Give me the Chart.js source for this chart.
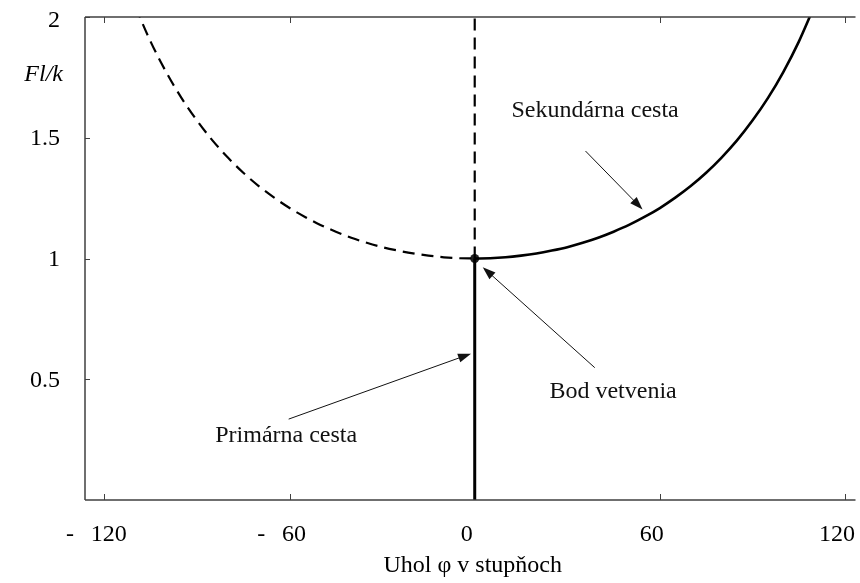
<!DOCTYPE html>
<html>
<head>
<meta charset="utf-8">
<script src="https://cdn.jsdelivr.net/npm/chart.js@4/dist/chart.umd.min.js"></script>
<style>
  html, body { margin: 0; padding: 0; background: #fff; }
  #c { display: block; }
</style>
</head>
<body>
<canvas id="c" width="860" height="583"></canvas>
<script>
// secondary path (solid), angle in degrees vs Fl/k
const angleRight = [0, 5, 10, 15, 20, 25, 30, 35, 40, 45, 50, 55, 60, 65, 70, 75, 80, 85, 90, 95, 100, 105, 110];
const flkRight = [1.0, 1.001, 1.005, 1.012, 1.021, 1.033, 1.047, 1.065, 1.086, 1.111, 1.139, 1.172, 1.209, 1.252, 1.300, 1.355, 1.418, 1.489, 1.571, 1.664, 1.772, 1.897, 2.043];
// unstable branch (dashed), negative angles
const angleLeft = [-110, -105, -100, -95, -90, -85, -80, -75, -70, -65, -60, -55, -50, -45, -40, -35, -30, -25, -20, -15, -10, -5, 0];
const flkLeft = [2.043, 1.897, 1.772, 1.664, 1.571, 1.489, 1.418, 1.355, 1.300, 1.252, 1.209, 1.172, 1.139, 1.111, 1.086, 1.065, 1.047, 1.033, 1.021, 1.012, 1.005, 1.001, 1.0];
// primary path (x = 0) and the branch point
const primaryY = [0, 1];
const dashedUpY = [1, 2];
const branchPoint = { x: 0, y: 1 };

const xTicks = [-120, -60, 0, 60, 120];
const xTickLabels = ['-\u2002\u2009120', '-\u2002\u200960', '0', '60', '120'];
const yTicks = [0.5, 1, 1.5, 2];
const yTickLabels = ['0.5', '1', '1.5', '2'];

const annotations = [
  { text: 'Sekundárna cesta', x: 11.9, y: 1.61, from: [35.9, 1.445], to: [54.4, 1.203] },
  { text: 'Bod vetvenia', x: 24.2, y: 0.45, from: [38.9, 0.548], to: [2.6, 0.964] },
  { text: 'Primárna cesta', x: -84.1, y: 0.266, from: [-60.3, 0.335], to: [-1.2, 0.606] }
];

const FONT = '24px "Liberation Serif", "Times New Roman", serif';

const pts = (xs, ys) => xs.map((x, i) => ({ x: x, y: ys[i] }));

function arrow(ctx, x1, y1, x2, y2) {
  const a = Math.atan2(y2 - y1, x2 - x1);
  const L = 13, W = 4.5;
  ctx.beginPath();
  ctx.moveTo(x1, y1);
  ctx.lineTo(x2 - L * 0.8 * Math.cos(a), y2 - L * 0.8 * Math.sin(a));
  ctx.stroke();
  ctx.beginPath();
  ctx.moveTo(x2, y2);
  ctx.lineTo(x2 - L * Math.cos(a) + W * Math.sin(a), y2 - L * Math.sin(a) - W * Math.cos(a));
  ctx.lineTo(x2 - L * Math.cos(a) - W * Math.sin(a), y2 - L * Math.sin(a) + W * Math.cos(a));
  ctx.closePath();
  ctx.fill();
}

const framePlugin = {
  id: 'frame',
  afterDraw(chart) {
    const ctx = chart.ctx, a = chart.chartArea;
    const xs = chart.scales.x, ys = chart.scales.y;
    ctx.save();
    // frame: left, top, bottom
    ctx.strokeStyle = '#404040';
    ctx.lineWidth = 1.5;
    ctx.beginPath();
    ctx.moveTo(a.left, a.top); ctx.lineTo(a.left, a.bottom);
    ctx.moveTo(a.left, a.top); ctx.lineTo(a.right, a.top);
    ctx.moveTo(a.left, a.bottom); ctx.lineTo(a.right, a.bottom);
    ctx.stroke();
    // inward ticks
    ctx.lineWidth = 1;
    ctx.beginPath();
    xTicks.forEach(v => {
      if (v === 0) return;
      const px = Math.round(xs.getPixelForValue(v)) + 0.5;
      ctx.moveTo(px, a.bottom); ctx.lineTo(px, a.bottom - 6);
      ctx.moveTo(px, a.top); ctx.lineTo(px, a.top + 6);
    });
    yTicks.forEach(v => {
      const py = Math.round(ys.getPixelForValue(v)) + 0.5;
      ctx.moveTo(a.left, py); ctx.lineTo(a.left + 5, py);
    });
    ctx.stroke();
    // tick labels
    ctx.fillStyle = '#000';
    ctx.font = FONT;
    ctx.textAlign = 'center';
    ctx.textBaseline = 'middle';
    xTicks.forEach((v, i) => {
      ctx.fillText(xTickLabels[i], xs.getPixelForValue(v) - 8, a.bottom + 35);
    });
    ctx.textAlign = 'right';
    yTicks.forEach((v, i) => {
      const py = ys.getPixelForValue(v) + (v === 2 ? 4 : 1);
      ctx.fillText(yTickLabels[i], a.left - 25, py);
    });
    // axis titles
    ctx.textAlign = 'center';
    ctx.fillText('Uhol \u03c6 v stupňoch', xs.getPixelForValue(0) - 2, a.bottom + 66);
    ctx.font = 'italic ' + FONT;
    ctx.textAlign = 'right';
    ctx.fillText('Fl/k', a.left - 22, ys.getPixelForValue(1.76));
    // annotations
    ctx.font = FONT;
    ctx.textAlign = 'left';
    ctx.strokeStyle = '#111';
    ctx.fillStyle = '#111';
    ctx.lineWidth = 1;
    annotations.forEach(an => {
      ctx.fillText(an.text, xs.getPixelForValue(an.x), ys.getPixelForValue(an.y));
      arrow(ctx,
        xs.getPixelForValue(an.from[0]), ys.getPixelForValue(an.from[1]),
        xs.getPixelForValue(an.to[0]), ys.getPixelForValue(an.to[1]));
    });
    ctx.restore();
  }
};

new Chart(document.getElementById('c'), {
  type: 'scatter',
  data: {
    datasets: [
      {
        label: 'Sekundárna cesta',
        data: pts(angleRight, flkRight),
        showLine: true, borderColor: '#000', borderWidth: 2.6,
        pointRadius: 0, cubicInterpolationMode: 'monotone'
      },
      {
        label: 'nestabilná vetva',
        data: pts(angleLeft, flkLeft),
        showLine: true, borderColor: '#000', borderWidth: 2.2, borderDash: [12, 7],
        pointRadius: 0, cubicInterpolationMode: 'monotone'
      },
      {
        label: 'nestabilná primárna',
        data: pts([0, 0], dashedUpY),
        showLine: true, borderColor: '#000', borderWidth: 2.2, borderDash: [12, 7],
        pointRadius: 0
      },
      {
        label: 'Primárna cesta',
        data: pts([0, 0], primaryY),
        showLine: true, borderColor: '#000', borderWidth: 3,
        pointRadius: 0
      },
      {
        label: 'Bod vetvenia',
        data: [branchPoint],
        pointRadius: 4.5, pointBackgroundColor: '#222', pointBorderWidth: 0
      }
    ]
  },
  options: {
    responsive: false,
    animation: false,
    layout: { padding: { left: 85, top: 17, right: 0, bottom: 83 } },
    plugins: { legend: { display: false }, tooltip: { enabled: false } },
    scales: {
      x: { type: 'linear', min: -126.3, max: 123.4, display: false },
      y: { type: 'linear', min: 0, max: 2, display: false }
    }
  },
  plugins: [framePlugin]
});
</script>
</body>
</html>
